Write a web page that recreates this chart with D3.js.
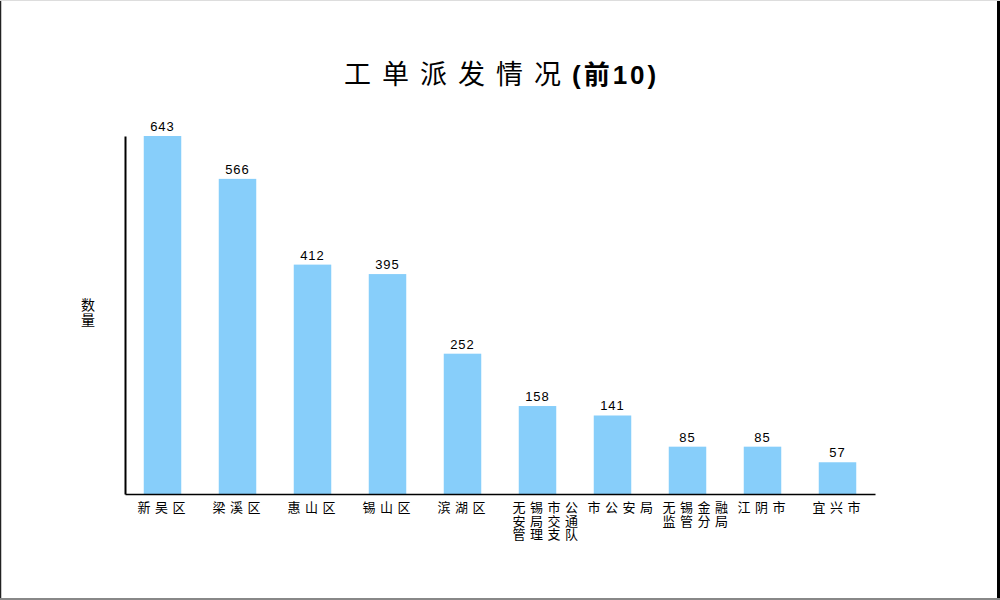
<!DOCTYPE html>
<html>
<head>
<meta charset="utf-8">
<script src="https://cdn.jsdelivr.net/npm/d3@7"></script>
<style>
  body { margin: 0; background: #fff; }
  text { font-family: "Liberation Sans", "Noto Sans CJK SC", sans-serif; }
</style>
</head>
<body>
<div class="canvas"></div>
<script>
// data
const categories = ['新吴区', '梁溪区', '惠山区', '锡山区', '滨湖区', '无锡市公安局交通管理支队', '市公安局', '无锡金融监管分局', '江阴市', '宜兴市'];
const counts = [643, 566, 412, 395, 252, 158, 141, 85, 85, 57];
const titleMain = '工单派发情况';
const titleTail = '(前10)';
const yLabel = ['数', '量'];

// chart dimensions
const dims = { width: 1000, height: 600 };
const margin = { top: 136, right: 125, bottom: 106, left: 125 };
const innerW = dims.width - margin.left - margin.right;
const innerH = dims.height - margin.top - margin.bottom;

const svg = d3.select('.canvas')
  .append('svg')
  .attr('width', dims.width)
  .attr('height', dims.height);

// frame round the picture
svg.append('line').attr('x1', 0.5).attr('y1', 0).attr('x2', 0.5).attr('y2', 600)
  .attr('stroke', '#222').attr('stroke-width', 1.5);
svg.append('line').attr('x1', 998.5).attr('y1', 0).attr('x2', 998.5).attr('y2', 600)
  .attr('stroke', '#000').attr('stroke-width', 3);
svg.append('line').attr('x1', 0).attr('y1', 599).attr('x2', 1000).attr('y2', 599)
  .attr('stroke', '#888').attr('stroke-width', 2);
svg.append('line').attr('x1', 0).attr('y1', 0.5).attr('x2', 1000).attr('y2', 0.5)
  .attr('stroke', '#ddd').attr('stroke-width', 1);

// title: widely spaced words, then a heavier tail
const titleText = svg.append('text')
  .attr('x', 344)
  .attr('y', 84)
  .attr('fill', '#000');
titleText.append('tspan')
  .attr('font-size', '27px')
  .attr('letter-spacing', '11px')
  .text(titleMain);
titleText.append('tspan')
  .attr('font-size', '26px')
  .attr('font-weight', 'bold')
  .attr('letter-spacing', '3px')
  .text(titleTail);

const graph = svg.append('g')
  .attr('transform', `translate(${margin.left}, ${margin.top})`);

// scales
const x = d3.scaleBand()
  .domain(categories)
  .range([0, innerW])
  .paddingInner(0.5)
  .paddingOuter(0.25);

const y = d3.scaleLinear()
  .domain([0, d3.max(counts)])
  .range([innerH, 0]);

const data = categories.map((c, i) => ({ name: c, count: counts[i] }));

// bars
graph.selectAll('rect')
  .data(data)
  .enter()
  .append('rect')
    .attr('x', d => x(d.name))
    .attr('y', d => y(d.count))
    .attr('width', x.bandwidth())
    .attr('height', d => innerH - y(d.count))
    .attr('fill', '#87cefa');

// value labels
graph.selectAll('text.val')
  .data(data)
  .enter()
  .append('text')
    .attr('class', 'val')
    .attr('x', d => x(d.name) + x.bandwidth() / 2)
    .attr('y', d => y(d.count) - 5)
    .attr('text-anchor', 'middle')
    .attr('font-size', '13px')
    .attr('letter-spacing', '1px')
    .attr('fill', '#000')
    .text(d => d.count);

// axes
const xAxis = d3.axisBottom(x).tickSize(0).tickFormat('');
const xAxisGroup = graph.append('g')
  .attr('transform', `translate(0, ${innerH})`)
  .call(xAxis);
xAxisGroup.select('.domain').attr('stroke', '#000').attr('stroke-width', 1.5);

const yAxis = d3.axisLeft(y).tickSize(0).tickValues([]);
const yAxisGroup = graph.append('g').call(yAxis);
yAxisGroup.select('.domain').attr('stroke', '#000').attr('stroke-width', 2);

// category labels, wrapped at 4 characters a line
const perLine = 4;
graph.selectAll('text.cat')
  .data(data)
  .enter()
  .append('text')
    .attr('class', 'cat')
    .attr('font-size', '13px')
    .attr('letter-spacing', '4.5px')
    .attr('fill', '#000')
    .attr('transform', d => `translate(${x(d.name) + x.bandwidth() / 2 - 25}, ${innerH + 18})`)
    .each(function(d) {
      const lines = [];
      for (let i = 0; i < d.name.length; i += perLine) lines.push(d.name.slice(i, i + perLine));
      d3.select(this).selectAll('tspan')
        .data(lines)
        .enter()
        .append('tspan')
          .attr('x', 0)
          .attr('dy', (l, i) => i === 0 ? 0 : 13.5)
          .text(l => l);
    });

// y label, one character a line
svg.append('text')
  .attr('font-size', '14px')
  .attr('text-anchor', 'middle')
  .attr('fill', '#000')
  .selectAll('tspan')
  .data(yLabel)
  .enter()
  .append('tspan')
    .attr('x', 88)
    .attr('y', (d, i) => 310 + i * 15)
    .text(d => d);
</script>
</body>
</html>
